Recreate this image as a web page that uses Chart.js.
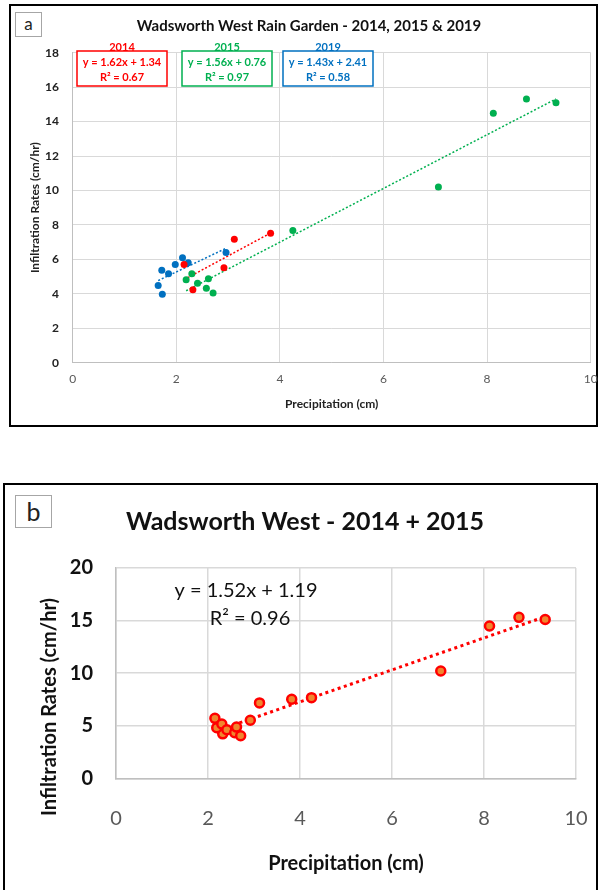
<!DOCTYPE html>
<html>
<head>
<meta charset="utf-8">
<script src="https://cdn.jsdelivr.net/npm/chart.js@4.4.1/dist/chart.umd.min.js"></script>
<style>
    body { margin: 0; width: 600px; height: 890px; overflow: hidden; background: #fff; position: relative; font-family: Lato, sans-serif; }
    .frame { position: absolute; border: 2.5px solid #000; box-sizing: border-box; }
    #frameA { left: 9px; top: 4px; width: 589px; height: 423px; }
    #frameB { left: 3px; top: 483px; width: 595px; height: 430px; }
    .tag { position: absolute; border: 1px solid #a6a6a6; background: #fff; color: #222; text-align: center; box-sizing: border-box; z-index: 2; }
    #tagA { left: 15px; top: 12px; width: 27px; height: 25px; font-size: 17px; line-height: 22px; }
    #tagB { left: 15px; top: 495px; width: 37px; height: 33px; font-size: 25px; line-height: 30px; }
    canvas { position: absolute; left: 0; z-index: 1; }
    #chartA { top: 0; }
    #chartB { top: 440px; }
</style>
</head>
<body>
<div class="frame" id="frameA"></div>
<div class="frame" id="frameB"></div>
<canvas id="chartA" width="600" height="440"></canvas>
<canvas id="chartB" width="600" height="450"></canvas>
<div class="tag" id="tagA">a</div>
<div class="tag" id="tagB">b</div>
<script>
// values
const precip2014 = [2.15, 2.32, 2.92, 3.12, 3.82];
const infil2014 = [5.70, 4.23, 5.52, 7.17, 7.52];
const precip2015 = [2.19, 2.30, 2.41, 2.58, 2.62, 2.71, 4.25, 7.06, 8.12, 8.76, 9.33];
const infil2015 = [4.81, 5.16, 4.62, 4.33, 4.87, 4.05, 7.67, 10.2, 14.48, 15.31, 15.1];
const precip2019 = [1.65, 1.73, 1.72, 1.85, 1.98, 2.12, 2.23, 2.96];
const infil2019 = [4.48, 3.98, 5.37, 5.17, 5.70, 6.09, 5.80, 6.40];

// fitted lines as printed on the chart
const fitYears = ['2014', '2015', '2019'];
const fitSlopes = [1.62, 1.56, 1.43];
const fitIntercepts = [1.34, 0.76, 2.41];
const fitR2 = [0.67, 0.97, 0.58];
const comboSlope = 1.52;
const comboIntercept = 1.19;
const comboR2 = 0.96;

const titleA = 'Wadsworth West Rain Garden - 2014, 2015 & 2019';
const titleB = 'Wadsworth West - 2014 + 2015';
const xTitle = 'Precipitation (cm)';
const yTitle = 'Infiltration Rates (cm/hr)';

const RED = '#FF0000', GREEN = '#00B050', BLUE = '#0070C0';
const FONT = 'Lato, "Open Sans", sans-serif';

function toPoints(xs, ys) {
    return xs.map((x, i) => ({ x: x, y: ys[i] }));
}

// Excel-style trendline: runs from the smallest to the largest x of the series
function trendPoints(xs, slope, intercept) {
    const lo = Math.min(...xs), hi = Math.max(...xs);
    return [{ x: lo, y: slope * lo + intercept }, { x: hi, y: slope * hi + intercept }];
}

function dots(data, color) {
    return { data: data, backgroundColor: color, borderWidth: 0, pointRadius: 3.5, showLine: false };
}

function trend(data, color, width, dash) {
    return { data: data, showLine: true, borderColor: color, borderWidth: width, borderDash: dash, pointRadius: 0, fill: false };
}

// keep the plot area where the reference has it, ignore label overhang
function fixX(height) {
    return function (scale) {
        scale.height = height;
        scale.paddingLeft = 0;
        scale.paddingRight = 0;
    };
}
function fixY(width) {
    return function (scale) {
        scale.width = width;
        scale.paddingTop = 0;
        scale.paddingBottom = 0;
    };
}

// ---------- panel a ----------
const panelAText = {
    id: 'panelAText',
    afterDraw(chart) {
        const ctx = chart.ctx;
        ctx.save();
        ctx.textAlign = 'center';
        ctx.textBaseline = 'middle';
        ctx.fillStyle = '#111';
        ctx.font = 'bold 15px ' + FONT;
        ctx.fillText(titleA, 309, 26);

        const colors = [RED, GREEN, BLUE];
        const boxLeft = [77, 182, 283];
        fitYears.forEach(function (year, i) {
            const left = boxLeft[i], top = 51, w = 90, h = 35;
            ctx.fillStyle = '#fff';
            ctx.fillRect(left, top, w, h);
            ctx.strokeStyle = colors[i];
            ctx.lineWidth = 1.5;
            ctx.strokeRect(left, top, w, h);
            ctx.fillStyle = colors[i];
            ctx.font = 'bold 11px ' + FONT;
            ctx.fillText(year, left + w / 2, 47);
            ctx.fillText('y = ' + fitSlopes[i].toFixed(2) + 'x + ' + fitIntercepts[i].toFixed(2), left + w / 2, 62.5);
            ctx.fillText('R\u00B2 = ' + fitR2[i].toFixed(2), left + w / 2, 77);
        });
        ctx.restore();
    }
};

new Chart(document.getElementById('chartA'), {
    type: 'scatter',
    data: {
        datasets: [
            dots(toPoints(precip2014, infil2014), RED),
            dots(toPoints(precip2015, infil2015), GREEN),
            dots(toPoints(precip2019, infil2019), BLUE),
            trend(trendPoints(precip2014, fitSlopes[0], fitIntercepts[0]), RED, 1.5, [2, 2]),
            trend(trendPoints(precip2015, fitSlopes[1], fitIntercepts[1]), GREEN, 1.5, [2, 2]),
            trend(trendPoints(precip2019, fitSlopes[2], fitIntercepts[2]), BLUE, 1.5, [2, 2])
        ]
    },
    options: {
        responsive: false,
        animation: false,
        layout: { padding: { left: 0, top: 52.7, right: 9.3, bottom: 0 } },
        plugins: { legend: { display: false }, tooltip: { enabled: false } },
        scales: {
            x: {
                type: 'linear', min: 0, max: 10,
                ticks: { stepSize: 2, color: '#595959', padding: 9, font: { family: FONT, size: 12 } },
                grid: { color: '#d9d9d9', drawTicks: false },
                border: { color: '#bfbfbf' },
                title: { display: true, text: xTitle, color: '#222', font: { family: FONT, size: 12, weight: 'bold' }, padding: { top: 0, bottom: 28.8 } },
                afterFit: fixX(77.3)
            },
            y: {
                min: 0, max: 18,
                ticks: { stepSize: 2, color: '#222', padding: 13.7, font: { family: FONT, size: 12, weight: 'bold' } },
                grid: { color: '#d9d9d9', drawTicks: false },
                border: { color: '#bfbfbf' },
                title: { display: true, text: yTitle, color: '#222', font: { family: FONT, size: 12, weight: 'bold' }, padding: { top: 27.8, bottom: 0 } },
                afterFit: fixY(72.7)
            }
        }
    },
    plugins: [panelAText]
});

// ---------- panel b ----------
const panelBText = {
    id: 'panelBText',
    afterDraw(chart) {
        const ctx = chart.ctx;
        ctx.save();
        ctx.textAlign = 'center';
        ctx.textBaseline = 'middle';
        ctx.fillStyle = '#111';
        ctx.font = 'bold 25px ' + FONT;
        ctx.fillText(titleB, 305, 82);

        ctx.font = '20px ' + FONT;
        ctx.fillText('y = ' + comboSlope.toFixed(2) + 'x + ' + comboIntercept.toFixed(2), 246, 151);
        ctx.fillText('R\u00B2 = ' + comboR2.toFixed(2), 250, 179);

        ctx.translate(50, 267);
        ctx.rotate(-Math.PI / 2);
        ctx.font = 'bold 20px ' + FONT;
        ctx.fillText(yTitle, 0, 0);
        ctx.restore();
    }
};

const precipCombo = precip2014.concat(precip2015);
const infilCombo = infil2014.concat(infil2015);

new Chart(document.getElementById('chartB'), {
    type: 'scatter',
    data: {
        datasets: [
            { data: toPoints(precipCombo, infilCombo), backgroundColor: '#F0862E', borderColor: RED, borderWidth: 2.5, pointRadius: 4.5, showLine: false },
            trend(trendPoints(precipCombo, comboSlope, comboIntercept), RED, 3, [3, 3.5])
        ]
    },
    options: {
        responsive: false,
        animation: false,
        layout: { padding: { left: 0, top: 128, right: 24, bottom: 0 } },
        plugins: { legend: { display: false }, tooltip: { enabled: false } },
        scales: {
            x: {
                type: 'linear', min: 0, max: 10,
                ticks: { stepSize: 2, color: '#595959', padding: 28.5, font: { family: FONT, size: 20 } },
                grid: { color: '#d9d9d9', lineWidth: 1.5, drawTicks: false },
                border: { color: '#bfbfbf', width: 1.5 },
                title: { display: true, text: xTitle, color: '#111', font: { family: FONT, size: 20, weight: 'bold' }, padding: { top: 0, bottom: 14 } },
                afterFit: fixX(111.7)
            },
            y: {
                min: 0, max: 20,
                ticks: { stepSize: 5, color: '#111', padding: 23, font: { family: FONT, size: 20, weight: 'bold' } },
                grid: { color: '#d9d9d9', lineWidth: 1.5, drawTicks: false },
                border: { color: '#bfbfbf', width: 1.5 },
                afterFit: fixY(116)
            }
        }
    },
    plugins: [panelBText]
});
</script>
</body>
</html>
